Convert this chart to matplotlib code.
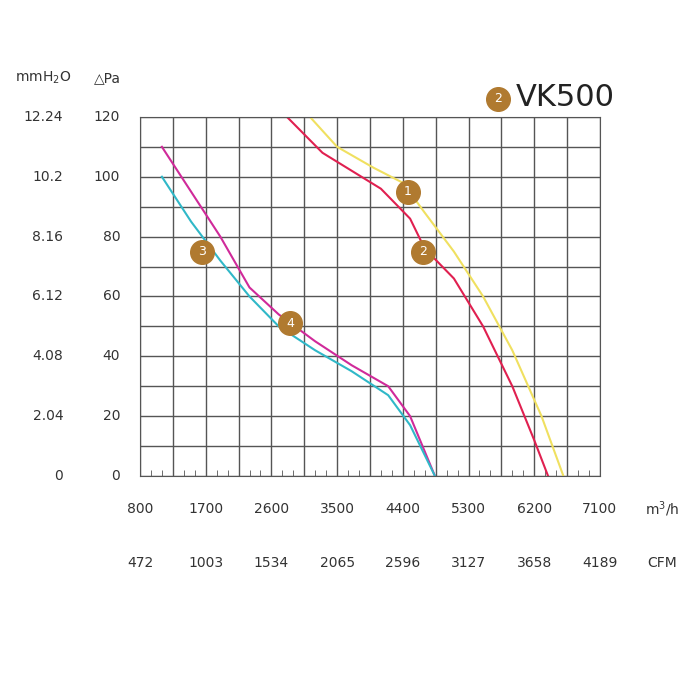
import matplotlib
matplotlib.use("Agg")
import matplotlib.pyplot as plt
import numpy as np

m3h_ticks = [800,1700,2600,3500,4400,5300,6200,7100]
cfm_labels = ["472","1003","1534","2065","2596","3127","3658","4189"]
pa_ticks = [0,20,40,60,80,100,120]
mmh2o_labels = ["0","2.04","4.08","6.12","8.16","10.2","12.24"]

c1_x = [3128,3500,4000,4400,4700,5100,5500,5900,6300,6600]
c1_y = [120,110,103,98,88,75,60,42,20,0]
c2_x = [2813,3300,3700,4100,4500,4700,5100,5500,5900,6200,6390]
c2_y = [120,108,102,96,86,76,66,50,30,12,0]
c4_x = [1100,1500,1900,2300,2700,3200,3700,4200,4500,4840]
c4_y = [110,95,80,63,54,45,37,30,20,0]
c3_x = [1100,1500,1900,2300,2700,3200,3700,4200,4500,4840]
c3_y = [100,85,72,60,50,42,35,27,17,0]

badges = [("1",4470,95),("2",4680,75),("3",1650,75),("4",2860,51)]

fig = plt.figure(figsize=(7,7), dpi=100)
ax = fig.add_axes([0.2,0.32,0.657,0.513])
ax.set_xlim(800,7100); ax.set_ylim(0,120)
ax.set_xticks(np.arange(800,7101,450), minor=False)
ax.set_yticks(np.arange(0,121,10))
ax.grid(True, color="#555555", lw=1)
ax.tick_params(labelbottom=False, labelleft=False, length=0)
ax.set_xticks(np.arange(800,7101,150), minor=True)
ax.tick_params(which="minor", direction="in", length=4, color="#555555")
for s in ax.spines.values():
    s.set_color("#555555")

ax.plot(c1_x,c1_y,color="#f0e060",lw=1.5)
ax.plot(c2_x,c2_y,color="#e02050",lw=1.5)
ax.plot(c4_x,c4_y,color="#d02a9a",lw=1.5)
ax.plot(c3_x,c3_y,color="#30b8c8",lw=1.5)
for t,x,y in badges:
    ax.plot(x,y,'o',ms=17,color="#b07a30",zorder=5)
    ax.text(x,y,t,color="white",ha="center",va="center",fontsize=9,zorder=6)

for v in m3h_ticks:
    ax.text(v,-11,str(v),ha="center",va="center",fontsize=10,color="#333")
for v,l in zip(m3h_ticks,cfm_labels):
    ax.text(v,-29,l,ha="center",va="center",fontsize=10,color="#333")
ax.text(7950,-11,"m$^3$/h",ha="center",va="center",fontsize=10,color="#333")
ax.text(7950,-29,"CFM",ha="center",va="center",fontsize=10,color="#333")
for v,l in zip(pa_ticks,mmh2o_labels):
    ax.text(530,v,str(v),ha="right",va="center",fontsize=10,color="#333")
    ax.text(-250,v,l,ha="right",va="center",fontsize=10,color="#333")
ax.text(-520,133,"mmH$_2$O",ha="center",va="center",fontsize=10,color="#333")
ax.text(350,133,"△Pa",ha="center",va="center",fontsize=10,color="#333")
ax.plot(5700,126,'o',ms=17,color="#b07a30",clip_on=False)
ax.text(5700,126,"2",color="white",ha="center",va="center",fontsize=9)
ax.text(5950,126.5,"VK500",ha="left",va="center",fontsize=22,color="#222")
fig.savefig("out.png")
